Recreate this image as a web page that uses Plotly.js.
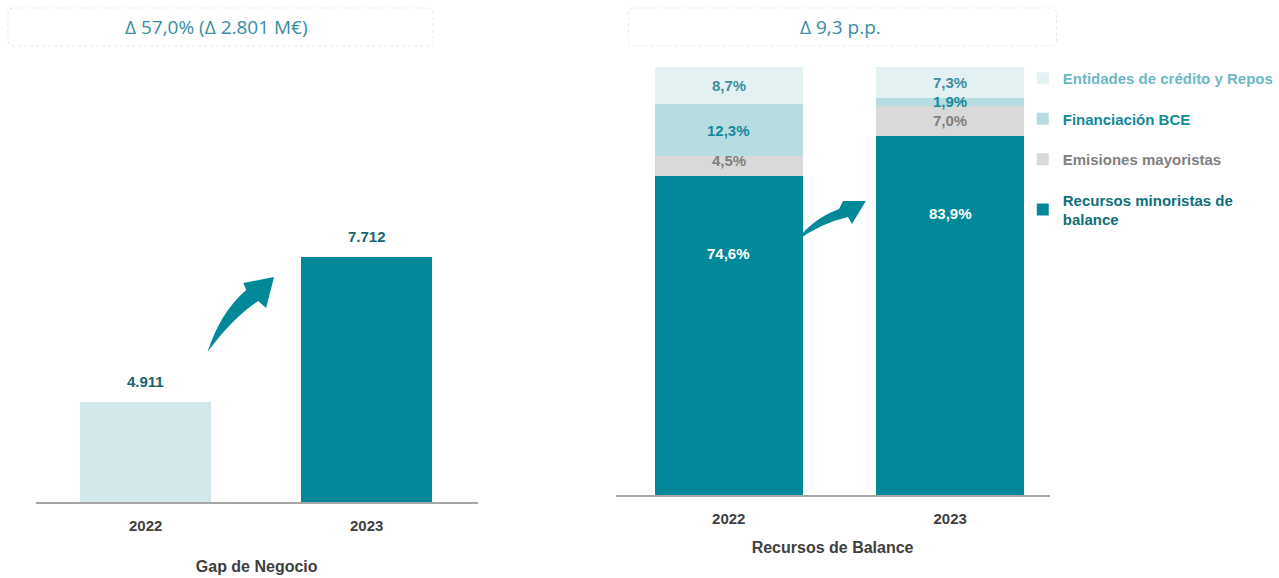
<!DOCTYPE html>
<html><head><meta charset="utf-8">
<script src="https://cdn.plot.ly/plotly-3.0.1.min.js"></script>
<style>html,body{margin:0;padding:0;background:#fff}#chart{width:1279px;height:578px}</style>
</head><body><div id="chart"></div>
<script>
// ---- data ----
const years = ['2022', '2023'];
const gapValues = [4911, 7712];
const gapTitle = 'Gap de Negocio';
const gapHeader = 'Δ 57,0% (Δ 2.801 M€)';

const recursosTitle = 'Recursos de Balance';
const recursosHeader = 'Δ 9,3 p.p.';
const seriesNames = ['Recursos minoristas de<br>balance', 'Emisiones mayoristas', 'Financiación BCE', 'Entidades de crédito y Repos'];
const minoristas = [74.6, 83.9];
const emisiones = [4.5, 7.0];
const financiacionBCE = [12.3, 1.9];
const entidades = [8.7, 7.3];

// ---- styles ----
const W = 1279, H = 578;
const TEAL = '#01899A';
const FONT = 'Liberation Sans, Arial, sans-serif';
const seriesColors = [TEAL, '#D9D9D9', '#B7DCE1', '#E4F1F3'];
const legendTextColors = ['#0F6F79', '#808080', '#13899A', '#6DB8C4'];
const labelColors = ['#FFFFFF', '#808080', '#13899A', '#3A8EA2'];
const px = p => p / W, py = p => 1 - p / H;

const seriesData = [minoristas, emisiones, financiacionBCE, entidades];

const traces = [];
traces.push({
  type: 'bar', x: years, y: gapValues, xaxis: 'x', yaxis: 'y',
  marker: {color: ['#D3E8EB', TEAL]}, width: 0.594, showlegend: false, hoverinfo: 'x+y'
});
seriesData.forEach((vals, i) => {
  traces.push({
    type: 'bar', x: years, y: vals, xaxis: 'x2', yaxis: 'y2',
    name: '<span style="color:' + legendTextColors[i] + '">' + seriesNames[i] + '</span>',
    legendgroup: 'g' + i, legendrank: 10 - i,
    marker: {color: seriesColors[i]}, width: 0.668, hoverinfo: 'x+y'
  });
});

const annotations = [];
// value labels left
years.forEach((yr, j) => {
  annotations.push({
    xref: 'x', yref: 'y', x: j, y: gapValues[j], yshift: 20, showarrow: false,
    xanchor: 'center', yanchor: 'middle',
    text: gapValues[j].toLocaleString('de-DE'),
    font: {family: FONT, size: 15, color: '#17656E', weight: 'bold'}
  });
});
// stacked labels right
const fmt = v => v.toFixed(1).replace('.', ',') + '%';
years.forEach((yr, j) => {
  let cum = 0;
  seriesData.forEach((vals, i) => {
    const v = vals[j];
    let y = cum + v / 2, yshift = 0;
    if (i === 0) { y = cum + v; yshift = -78; }
    if (i === 1 && j === 0) yshift = 6;
    annotations.push({
      xref: 'x2', yref: 'y2', x: j, y: y, yshift: yshift, showarrow: false,
      xanchor: 'center', yanchor: 'middle',
      text: fmt(v), font: {family: FONT, size: 15, color: labelColors[i], weight: 'bold'}
    });
    cum += v;
  });
});
// headers
annotations.push({xref: 'paper', yref: 'paper', x: px(218), y: py(27), xanchor: 'center', yanchor: 'middle', showarrow: false, text: gapHeader,
  font: {family: 'Open Sans, sans-serif', size: 19, color: '#3A8CA2'}});
annotations.push({xref: 'paper', yref: 'paper', x: px(846), y: py(27), xanchor: 'center', yanchor: 'middle', showarrow: false, text: recursosHeader,
  font: {family: 'Open Sans, sans-serif', size: 19, color: '#3A8CA2'}});

function pathFromPx(cmds) {
  return cmds.map(c => {
    if (c[0] === 'Z') return 'Z';
    const pts = [];
    for (let k = 1; k < c.length; k += 2) pts.push(px(c[k]).toFixed(5) + ',' + py(c[k + 1]).toFixed(5));
    return c[0] + pts.join(' ');
  }).join(' ');
}
function roundRect(x0, y0, x1, y1, r) {
  return pathFromPx([['M', x0 + r, y0], ['L', x1 - r, y0], ['Q', x1, y0, x1, y0 + r], ['L', x1, y1 - r],
    ['Q', x1, y1, x1 - r, y1], ['L', x0 + r, y1], ['Q', x0, y1, x0, y1 - r], ['L', x0, y0 + r],
    ['Q', x0, y0, x0 + r, y0], ['Z']]);
}
const shapes = [
  {type: 'path', xref: 'paper', yref: 'paper', path: roundRect(8, 8, 436, 46, 6), line: {color: '#E8E8E8', width: 1, dash: 'dot'}},
  {type: 'path', xref: 'paper', yref: 'paper', path: roundRect(633, 8, 1064, 46, 6), line: {color: '#E8E8E8', width: 1, dash: 'dot'}},
  {type: 'path', xref: 'paper', yref: 'paper', fillcolor: TEAL, line: {width: 0},
    path: pathFromPx([['M', 209, 352], ['Q', 222, 312, 248, 290], ['L', 245, 283], ['L', 276, 277], ['L', 268, 308], ['L', 260, 301], ['Q', 234, 318, 209, 352], ['Z']])},
  {type: 'path', xref: 'paper', yref: 'paper', fillcolor: TEAL, line: {width: 0},
    path: pathFromPx([['M', 802, 241], ['Q', 818, 219, 845, 209], ['L', 849, 201], ['L', 872, 201], ['L', 858, 224], ['L', 854, 217], ['Q', 827, 223, 802, 241], ['Z']])}
];

const tickFont = {family: FONT, size: 15, color: '#404040', weight: 'bold'};
const titleFont = {family: FONT, size: 16, color: '#404040', weight: 'bold'};
const layout = {
  width: W, height: H, margin: {l: 0, r: 0, t: 0, b: 0},
  paper_bgcolor: '#fff', plot_bgcolor: 'rgba(0,0,0,0)',
  separators: ',.', barmode: 'stack',
  xaxis: {domain: [px(36), px(481)], anchor: 'y', type: 'category', range: [-0.4977, 1.5023],
    showline: true, linecolor: '#A6A6A6', linewidth: 1.5, ticks: '', tickfont: tickFont, ticklabelstandoff: 9,
    showgrid: false, zeroline: false, fixedrange: true,
    title: {text: gapTitle, font: titleFont, standoff: 28}},
  yaxis: {domain: [py(502), py(58)], anchor: 'x', range: [2979, 2979 + (502 - 58) / 0.05177],
    visible: false, showgrid: false, zeroline: false, fixedrange: true},
  xaxis2: {domain: [px(620), px(1057)], anchor: 'y2', type: 'category', range: [-0.511, 1.449],
    showline: true, linecolor: '#A6A6A6', linewidth: 1.5, ticks: '', tickfont: tickFont, ticklabelstandoff: 9,
    showgrid: false, zeroline: false, fixedrange: true,
    title: {text: recursosTitle, font: titleFont, standoff: 16}},
  yaxis2: {domain: [py(495), py(67)], anchor: 'x2', range: [0, 100], visible: false,
    showgrid: false, zeroline: false, fixedrange: true},
  showlegend: true,
  legend: {x: px(1030), y: py(62), xanchor: 'left', yanchor: 'top', traceorder: 'grouped',
    tracegroupgap: 18, bgcolor: 'rgba(0,0,0,0)', itemclick: false, itemdoubleclick: false,
    font: {family: FONT, size: 15, color: '#404040', weight: 'bold'}},
  annotations: annotations, shapes: shapes
};
Plotly.newPlot('chart', traces, layout, {displayModeBar: false, staticPlot: true});
</script></body></html>
